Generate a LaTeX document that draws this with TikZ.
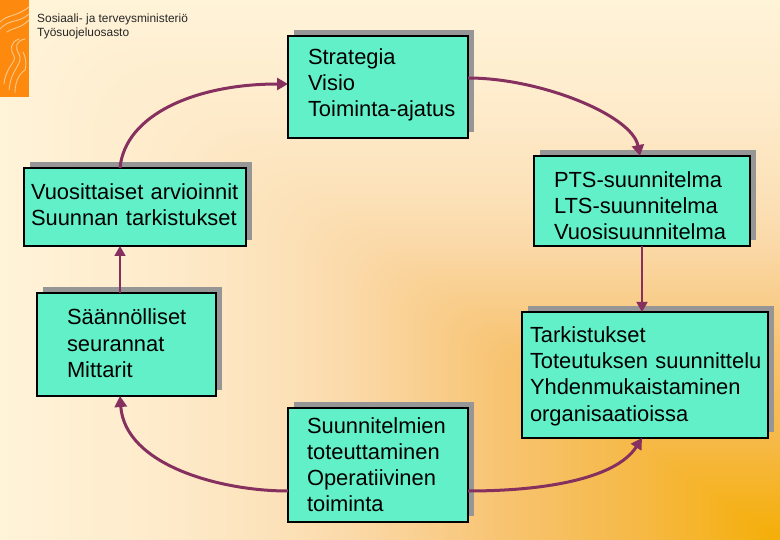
\documentclass[tikz,border=0pt]{standalone}
\usepackage{fontspec}
\setmainfont{Liberation Sans}
\usetikzlibrary{arrows.meta,shadows}
\definecolor{sa}{HTML}{FFF3D8}
\definecolor{sb}{HTML}{FEEBCB}
\definecolor{sc}{HTML}{FCE2BA}
\definecolor{sd}{HTML}{FBD9A8}
\definecolor{se}{HTML}{F9CF90}
\definecolor{sf}{HTML}{F7C370}
\definecolor{sg}{HTML}{F6BA4A}
\definecolor{sh}{HTML}{F5AE05}
\definecolor{boxfill}{HTML}{62F0C8}
\definecolor{conn}{HTML}{86305F}
\definecolor{logoO}{HTML}{FD8A0E}
\definecolor{logoL}{HTML}{FBC98C}
\tikzset{
  box/.style={draw=black,line width=2pt,fill=boxfill,anchor=north west,outer sep=0pt,inner ysep=0pt,
    align=left,font=\fontsize{21.9}{26.2}\selectfont,
    drop shadow={shadow xshift=6pt,shadow yshift=6pt,fill=black!41,opacity=1}},
  curved/.style={draw=conn,line width=3pt,-{Triangle[length=11pt,width=12pt]}},
  straightc/.style={draw=conn,line width=1.7pt,-{Triangle[length=10pt,width=11pt]}},
  header/.style={anchor=north west,align=left,inner sep=0pt,text=black!85,font=\fontsize{11.9}{14}\selectfont},
  wave/.style={draw=logoL,line width=0.9pt,line cap=round}
}
\begin{document}
\begin{tikzpicture}[x=1pt,y=-1pt]
\useasboundingbox (0,0) rectangle (780,540);
% background: gradient from the lower right corner
\begin{scope}
\clip (0,0) rectangle (780,540);
\fill[sa] (0,0) rectangle (780,540);
\foreach \hi/\lo/\ca/\cb in {1/0.8/sa/sb,0.8/0.65/sb/sc,0.65/0.55/sc/sd,0.55/0.46/sd/se,0.46/0.355/se/sf,0.355/0.2/sf/sg,0.2/0/sg/sh}{
  \foreach \i in {0,...,19}{
    \pgfmathsetmacro{\t}{\hi-(\hi-\lo)*\i/20}
    \pgfmathsetmacro{\p}{100*(1-\i/20)}
    \pgfmathsetmacro{\rr}{max(0.6,80*\t)}
    \colorlet{cc}{\ca!\p!\cb}
    \fill[cc,rounded corners=\rr pt] ({780*(1-\t)},{540*(1-\t)}) rectangle (1100,900);
  }
}
\end{scope}
% logo
\fill[logoO] (0,0) rectangle (29,97);
\draw[wave] (0,22) .. controls (8,14) and (14,18) .. (29,7);
\draw[wave] (0,29) .. controls (10,18) and (18,24) .. (29,14);
\draw[wave] (7,32) .. controls (14,27) and (20,29) .. (29,20);
\draw[wave] (19,39) .. controls (10,42) and (10,50) .. (14,56) .. controls (17,62) and (6,66) .. (4,84);
\draw[wave] (25,39) .. controls (15,41) and (15,48) .. (19,54) .. controls (24,64) and (11,68) .. (9,90);
\draw[wave] (23,52) .. controls (27,60) and (26,66) .. (25,70) .. controls (22,72) and (15,78) .. (15,93);
% header
\node[header] (head) at (37,13.5) {Sosiaali- ja terveysministeriö\\Työsuojeluosasto};
% boxes
\node[box,at={(288,36)},inner xsep=20pt,text width=140pt,text height=28.3pt,text depth=73.7pt] (strat) {Strategia\\Visio\\\mbox{Toiminta-ajatus}};
\node[box,at={(534,156)},inner xsep=20pt,text width=176pt,text height=31.2pt,text depth=58.8pt] (pts) {PTS-suunnitelma\\LTS-suunnitelma\\Vuosisuunnitelma};
\node[box,at={(24,168)},inner xsep=7pt,text width=208pt,text height=31.2pt,text depth=46.8pt] (vuos) {\mbox{Vuosittaiset arvioinnit}\\\mbox{Suunnan tarkistukset}};
\node[box,at={(37,293)},inner xsep=30pt,text width=119pt,text height=32pt,text depth=71pt] (saan) {Säännölliset\\seurannat\\Mittarit};
\node[box,at={(288,408)},inner xsep=19pt,text width=142pt,text height=25pt,text depth=89pt] (toteut) {Suunnitelmien\\toteuttaminen\\Operatiivinen\\toiminta};
\node[box,at={(522,312)},inner xsep=8pt,text width=230pt,text height=30.6pt,text depth=95.4pt] (tark) {Tarkistukset\\\mbox{Toteutuksen suunnittelu}\\Yhdenmukaistaminen\\organisaatioissa};
% connectors
\draw[curved] ([xshift=-15pt]vuos.north) .. controls +(5,-53) and (195,84) .. ([yshift=3pt]strat.west);
\draw[curved] ([yshift=9pt]strat.east) .. controls +(72,0) and (632,115) .. ([xshift=-2pt]pts.north);
\draw[straightc] (pts.south) -- (tark.north -| pts.south);
\draw[curved] ([yshift=-26pt]toteut.east) .. controls +(72,0) and (615,480) .. ([xshift=-3pt]tark.south);
\draw[curved] ([yshift=-26pt]toteut.west) .. controls +(-68,0) and (125,465) .. ([xshift=-6.5pt]saan.south);
\draw[straightc] ([xshift=-6.5pt]saan.north) -- ([xshift=-15pt]vuos.south);
\end{tikzpicture}
\end{document}
